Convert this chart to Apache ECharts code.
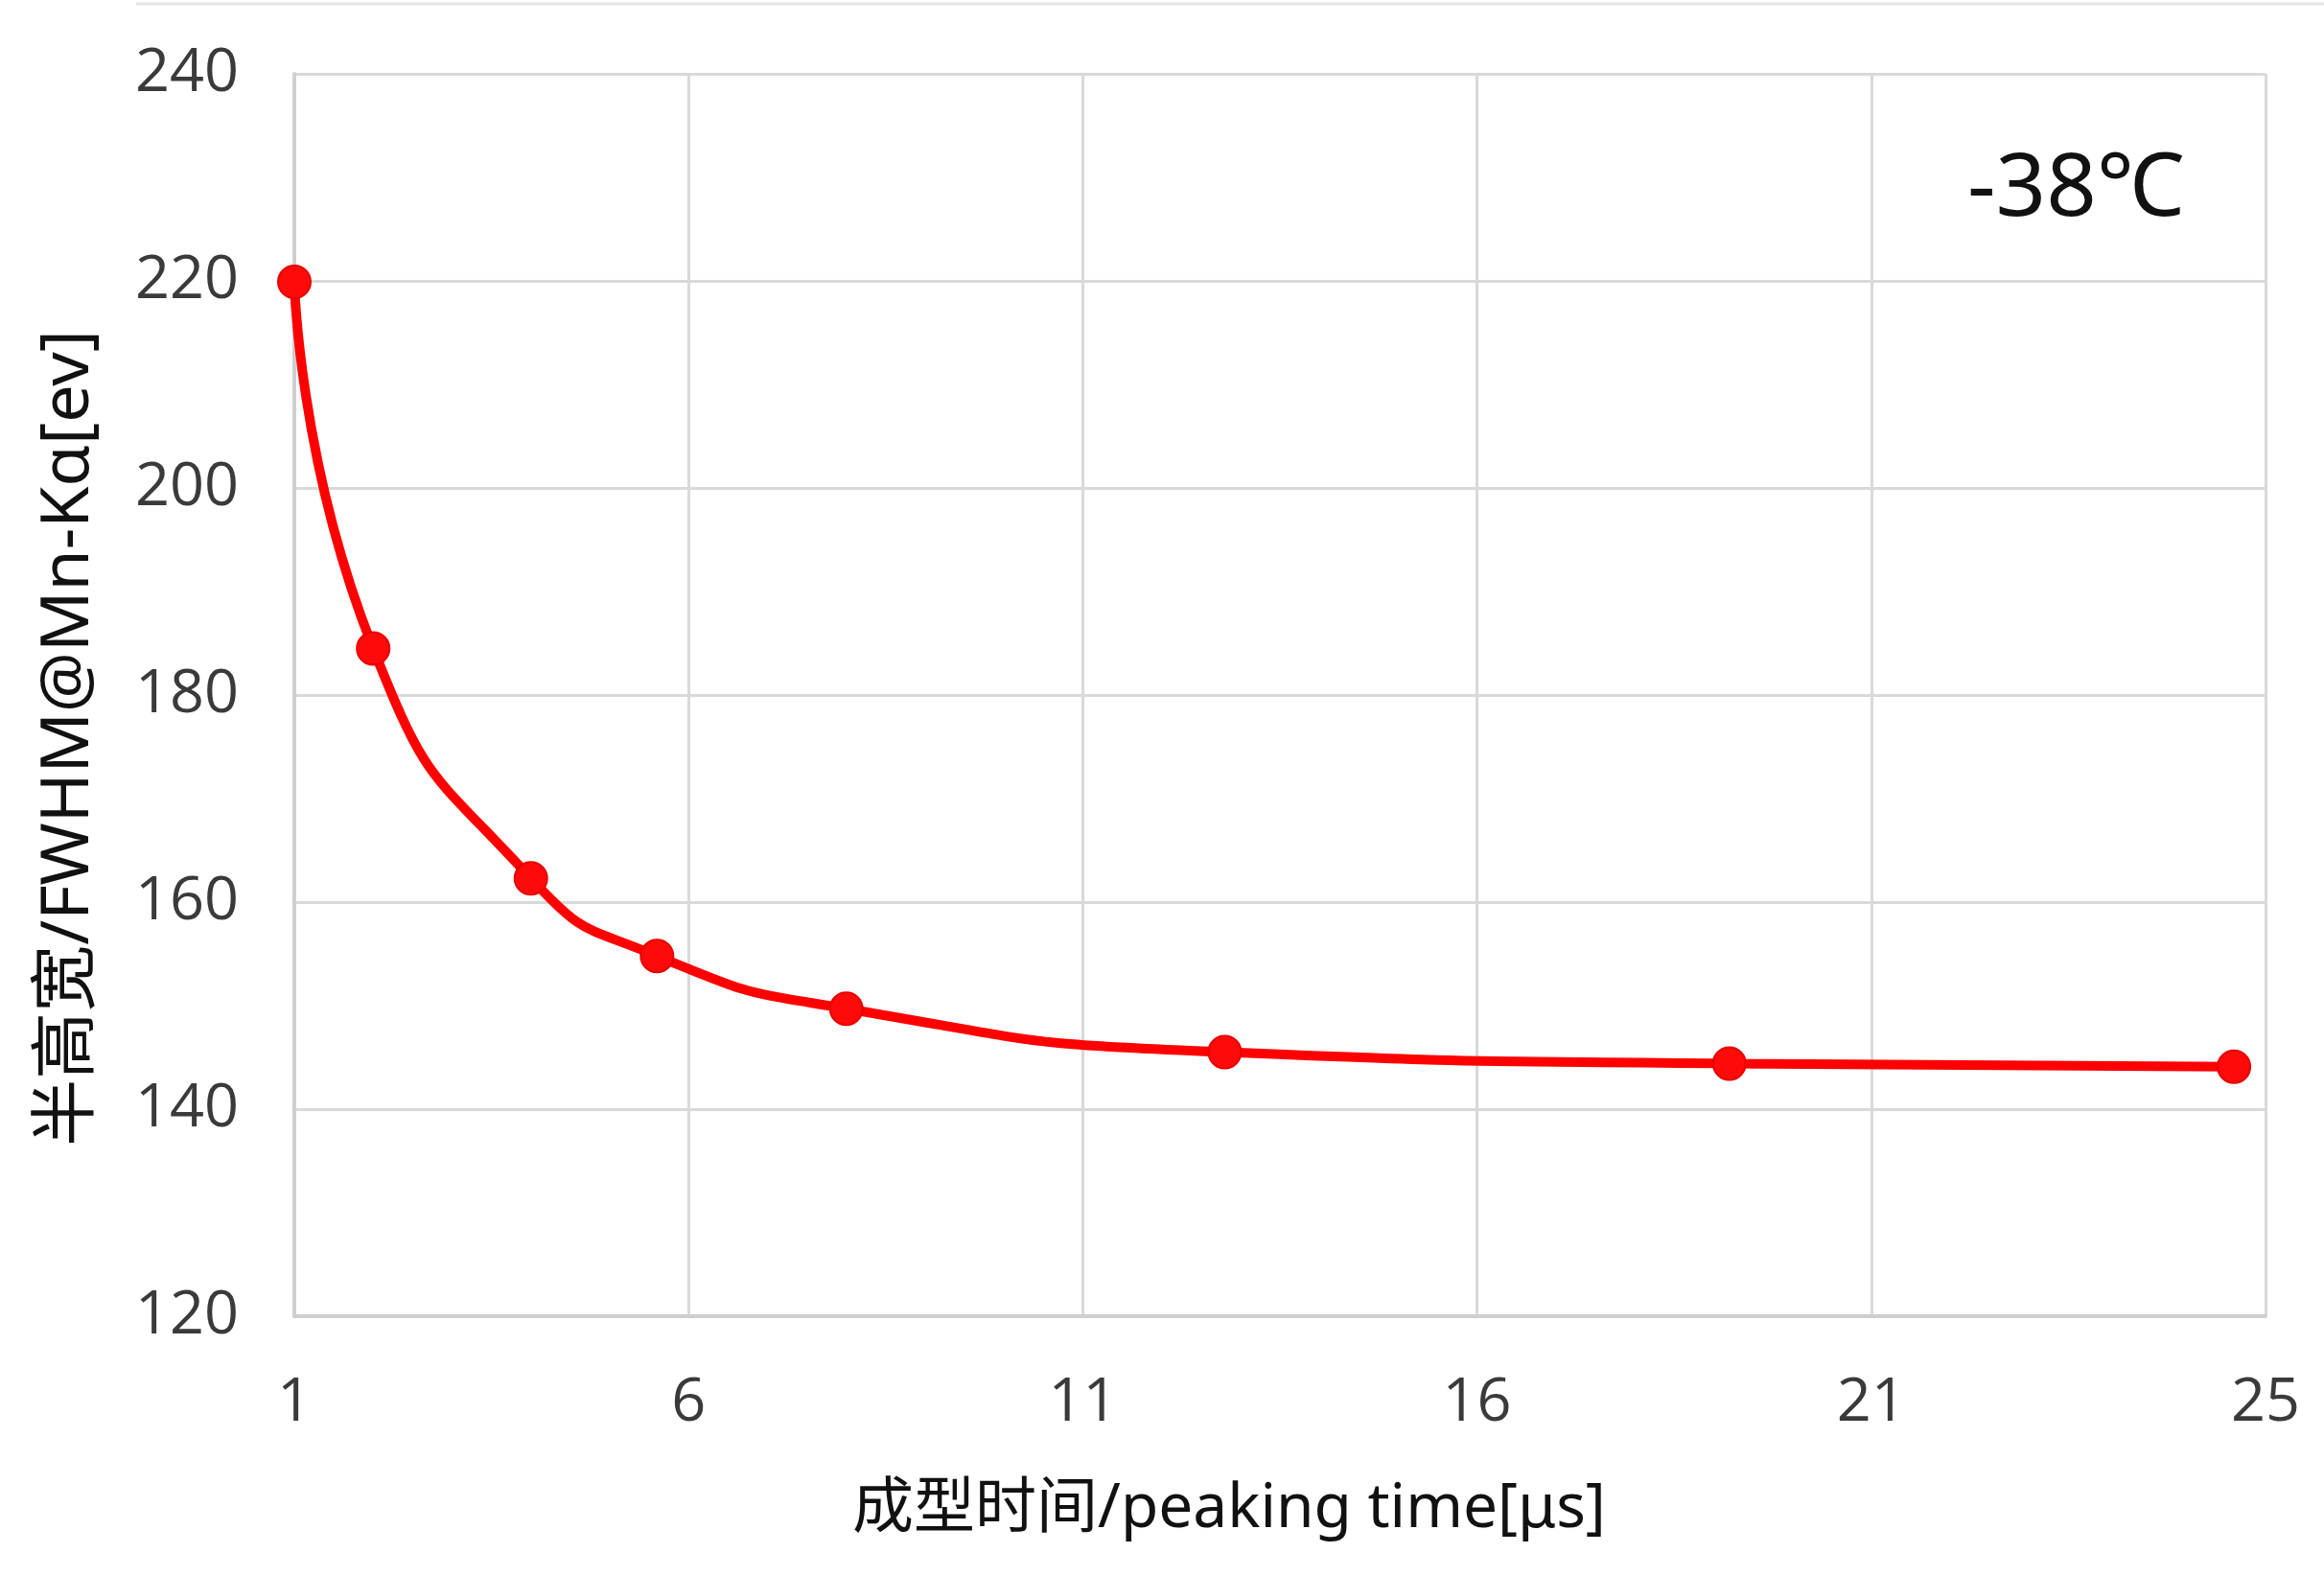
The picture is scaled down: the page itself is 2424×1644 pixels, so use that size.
<!DOCTYPE html>
<html>
<head>
<meta charset="utf-8">
<script src="https://cdn.jsdelivr.net/npm/echarts@6/dist/echarts.min.js"></script>
<style>
html,body{margin:0;padding:0;background:#fff;}
#chart{width:2424px;height:1644px;}
</style>
</head>
<body>
<div id="chart"></div>
<script>
// Data
const peakingTimes = [1, 2, 4, 5.6, 8, 12.8, 19.2, 25.6];
const fwhmValues = [219.9, 184.5, 162.3, 154.8, 149.7, 145.5, 144.4, 144.1];
const xTickLabels = ['1', '6', '11', '16', '21', '25'];
const yTicks = [120, 140, 160, 180, 200, 220, 240];
const xAxisName = '成型时间/peaking time[μs]';
const yAxisName = '半高宽/FWHM@Mn-Kα[ev]';
const tempLabel = '-38℃';

const seriesData = peakingTimes.map((x, i) => [x, fwhmValues[i]]);

const chart = echarts.init(document.getElementById('chart'), null, {renderer: 'canvas'});
const labelFont = '"Open Sans", "Noto Sans", sans-serif';
const nameFont = '"Noto Sans", "Noto Sans CJK SC", sans-serif';

chart.setOption({
  backgroundColor: '#ffffff',
  animation: false,
  grid: {left: 307, right: 61, top: 77, bottom: 271, containLabel: false},
  xAxis: {
    type: 'value',
    min: 1,
    max: 26,
    interval: 5,
    name: xAxisName,
    nameLocation: 'middle',
    nameGap: 170,
    nameTextStyle: {fontFamily: nameFont, fontSize: 64, color: '#111111', padding: [0, 106, 0, 0]},
    axisLine: {show: true, lineStyle: {color: '#cfcfcf', width: 4}},
    axisTick: {show: false},
    axisLabel: {
      margin: 60,
      fontFamily: labelFont,
      fontSize: 63,
      color: '#3a3a3a',
      formatter: function (v) {
        const idx = Math.round((v - 1) / 5);
        return xTickLabels[idx] !== undefined ? xTickLabels[idx] : '';
      }
    },
    splitLine: {show: true, lineStyle: {color: '#d9d9d9', width: 3}}
  },
  yAxis: {
    type: 'value',
    min: yTicks[0],
    max: yTicks[yTicks.length - 1],
    interval: 20,
    name: yAxisName,
    nameLocation: 'middle',
    nameRotate: 90,
    nameGap: 200,
    nameTextStyle: {fontFamily: nameFont, fontSize: 70, color: '#111111', padding: [0, 0, 0, -90]},
    axisLine: {show: true, lineStyle: {color: '#cfcfcf', width: 4}},
    axisTick: {show: false},
    axisLabel: {margin: 58, fontFamily: labelFont, fontSize: 63, color: '#3a3a3a'},
    splitLine: {show: true, lineStyle: {color: '#d9d9d9', width: 3}}
  },
  series: [{
    type: 'line',
    data: seriesData,
    smooth: 0.55,
    symbol: 'circle',
    symbolSize: 34,
    lineStyle: {color: '#ff0000', width: 10},
    itemStyle: {color: '#ff0a0a', borderColor: '#e60000', borderWidth: 2},
    z: 5
  }],
  graphic: [
    {
      type: 'line',
      shape: {x1: 142, y1: 4, x2: 2424, y2: 4},
      style: {stroke: '#e4e4e4', lineWidth: 3},
      silent: true
    },
    {
      type: 'text',
      left: 2052,
      top: 153,
      style: {text: tempLabel, fontFamily: '"Noto Sans", "Open Sans", sans-serif', fontSize: 92, fill: '#111111'},
      z: 10
    }
  ]
});
</script>
</body>
</html>
